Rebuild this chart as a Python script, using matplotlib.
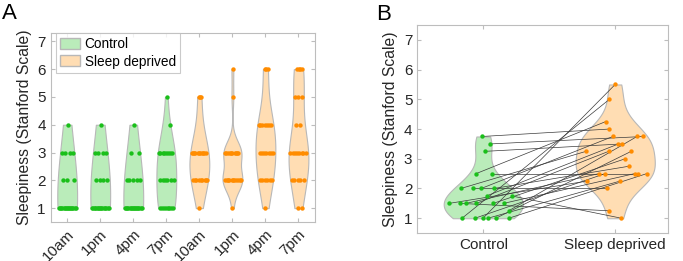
import matplotlib
matplotlib.use("Agg")
import matplotlib.pyplot as plt
import numpy as np
from matplotlib.patches import Patch

plt.rcParams['font.family'] = ['Liberation Sans', 'DejaVu Sans']

# Stanford sleepiness scores and time-of-day labels
scores = [1, 2, 3, 4, 5, 6]
time_labels = ['10am', '1pm', '4pm', '7pm']

# Number of subjects at each score (1..6), one row per time of day
control_counts = [
    [16, 3, 4, 1, 0, 0],
    [15, 4, 4, 1, 0, 0],
    [16, 5, 2, 1, 0, 0],
    [8, 6, 8, 1, 1, 0],
]
deprived_counts = [
    [1, 9, 11, 0, 3, 0],
    [1, 11, 10, 0, 1, 1],
    [1, 6, 7, 7, 0, 3],
    [2, 5, 8, 2, 3, 4],
]

# Panel B: mean sleepiness per subject, paired by index
control_mean = [3.75, 3.5, 3.25, 2.5, 2.5, 2.0, 2.0, 2.0, 2.0, 1.75, 1.75, 1.5,
                1.5, 1.5, 1.5, 1.5, 1.5, 1.25, 1.0, 1.0, 1.0, 1.0, 1.0, 1.0]
deprived_mean = [4.0, 3.75, 3.5, 4.25, 2.5, 3.75, 3.25, 2.75, 2.0, 1.0, 3.5, 1.25,
                 2.5, 3.25, 2.25, 3.0, 2.5, 3.75, 5.5, 5.0, 3.25, 2.5, 2.5, 2.25]
group_labels = ['Control', 'Sleep deprived']

# Colours
green_dot = (0.1, 0.75, 0.1)
green_fill = (0.73, 0.925, 0.73)
orange_dot = (1.0, 0.55, 0.0)
orange_fill = (1.0, 0.865, 0.70)
edge_grey = '#b8b8b8'
axis_grey = '#bdbdbd'
text_col = '#262626'


def kde(data):
    # ksdensity-like bandwidth (robust sigma), clipped to data range
    data = np.asarray(data, float)
    n = len(data)
    sig = np.median(np.abs(data - np.median(data))) / 0.6745
    if sig <= 0:
        sig = data.max() - data.min()
    h = sig * (4 / (3 * n)) ** 0.2
    grid = np.linspace(data.min(), data.max(), 100)
    dens = np.exp(-0.5 * ((grid[:, None] - data[None, :]) / h) ** 2).sum(1)
    return grid, dens / dens.max()


def violin(ax, pos, data, fill, dot, width=0.3):
    data = np.asarray(data, float)
    grid, dens = kde(data)
    half = dens * width
    ax.fill_betweenx(grid, pos - half, pos + half, facecolor=fill,
                     edgecolor=edge_grey, lw=0.8, zorder=1)
    # spread the points inside the violin (golden-ratio sequence, no randomness)
    idx = np.arange(len(data))
    jit = 2 * ((idx * 0.618034 + 0.37) % 1) - 1
    x = pos + 0.9 * jit * np.interp(data, grid, half)
    ax.scatter(x, data, s=10, color=dot, zorder=3, linewidths=0)
    return x


def style_axes(ax):
    for s in ax.spines.values():
        s.set_color(axis_grey)
        s.set_linewidth(0.8)
    ax.tick_params(direction='in', length=3, width=0.8, color=axis_grey,
                   labelcolor=text_col, labelsize=11, top=True, right=True)
    ax.set_yticks(range(1, 8))


fig = plt.figure(figsize=(6.83, 2.61), dpi=100)

# Panel A
axA = fig.add_axes([0.0742, 0.1494, 0.387, 0.724])
for i, c in enumerate(control_counts):
    violin(axA, i + 1, np.repeat(scores, c), green_fill, green_dot)
for i, c in enumerate(deprived_counts):
    violin(axA, i + 5, np.repeat(scores, c), orange_fill, orange_dot)
axA.set_xlim(0.5, 8.5)
axA.set_ylim(0.5, 7.3)
style_axes(axA)
axA.set_xticks(range(1, 9))
axA.set_xticklabels(time_labels * 2, rotation=45, ha='right', rotation_mode='anchor')
axA.set_ylabel('Sleepiness (Stanford Scale)', fontsize=11.3, color=text_col)
leg = axA.legend(handles=[Patch(facecolor=green_fill, edgecolor=edge_grey, label='Control'),
                          Patch(facecolor=orange_fill, edgecolor=edge_grey, label='Sleep deprived')],
                 loc='upper left', bbox_to_anchor=(0.02, 1.0), borderaxespad=0,
                 fontsize=9.8, fancybox=False, handlelength=1.5, handleheight=0.9,
                 handletextpad=0.3, borderpad=0.3, labelspacing=0.25)
leg.get_frame().set_edgecolor(axis_grey)
leg.get_frame().set_linewidth(0.8)

# Panel B
axB = fig.add_axes([0.611, 0.107, 0.367, 0.797])
xc = violin(axB, 1, control_mean, green_fill, green_dot)
xs = violin(axB, 2, deprived_mean, orange_fill, orange_dot)
for a, b, ya, yb in zip(xc, xs, control_mean, deprived_mean):
    axB.plot([a, b], [ya, yb], color='#3a3a3a', lw=0.5, zorder=2)
axB.set_xlim(0.5, 2.4)
axB.set_ylim(0.5, 7.5)
style_axes(axB)
axB.set_xticks([1, 2])
axB.set_xticklabels(group_labels)
axB.set_ylabel('Sleepiness (Stanford Scale)', fontsize=11.3, color=text_col)

fig.text(0.003, 0.99, 'A', fontsize=16, va='top', ha='left', color='black')
fig.text(0.551, 0.985, 'B', fontsize=16, va='top', ha='left', color='black')

fig.savefig('out.png', dpi=100)
